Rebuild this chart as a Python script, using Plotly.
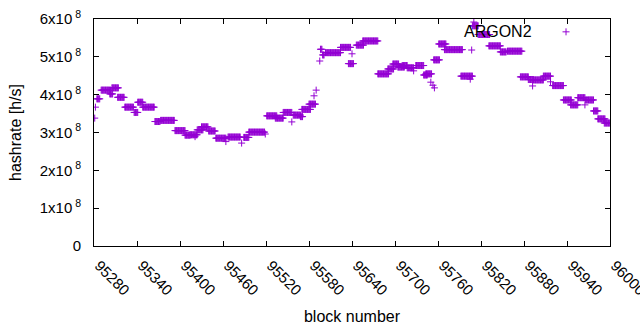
import numpy as np
import plotly.graph_objects as go

# Runs of blocks sharing the same hashrate
# (start block, end block, hashrate in units of 1e8 h/s)
seg_start = [95281, 95282, 95284, 95290, 95302, 95305, 95313, 95323, 95336, 95341,
             95348, 95365, 95373, 95393, 95407, 95414, 95421, 95424, 95430, 95440,
             95450, 95464, 95467, 95486, 95489, 95496, 95519, 95521, 95533, 95544,
             95556, 95558, 95568, 95570, 95580, 95587, 95590, 95595, 95596, 95599,
             95603, 95624, 95635, 95640, 95646, 95655, 95676, 95690, 95697, 95704,
             95710, 95717, 95726, 95729, 95740, 95743, 95750, 95753, 95755, 95754,
             95761, 95769, 95792, 95805, 95807, 95808, 95810, 95816, 95831, 95847,
             95857, 95875, 95886, 95892, 95893, 95907, 95917, 95920, 95935, 95945,
             95955, 95965, 95966, 95977, 95983, 95992]
seg_end = [95281, 95282, 95288, 95303, 95306, 95314, 95322, 95335, 95341, 95348,
           95364, 95372, 95392, 95407, 95414, 95424, 95421, 95432, 95439, 95449,
           95464, 95464, 95484, 95486, 95496, 95518, 95519, 95535, 95544, 95556,
           95556, 95568, 95571, 95582, 95589, 95587, 95590, 95595, 95598, 95601,
           95624, 95638, 95642, 95640, 95656, 95676, 95691, 95698, 95705, 95713,
           95717, 95726, 95726, 95740, 95745, 95751, 95750, 95753, 95755, 95762,
           95771, 95794, 95808, 95805, 95807, 95816, 95810, 95832, 95847, 95855,
           95877, 95886, 95893, 95892, 95907, 95917, 95917, 95935, 95946, 95955,
           95965, 95965, 95977, 95983, 95993, 96000]
seg_value = [3.38, 3.67, 3.89, 4.12, 4.02, 4.18, 3.93, 3.67, 3.53, 3.80,
             3.67, 3.29, 3.32, 3.05, 2.93, 2.94, 2.89, 3.07, 3.15, 3.04,
             2.85, 2.76, 2.88, 2.72, 2.87, 3.01, 2.96, 3.44, 3.38, 3.53,
             3.28, 3.46, 3.42, 3.61, 3.75, 3.97, 4.12, 4.89, 5.20, 5.05,
             5.11, 5.25, 4.82, 5.08, 5.31, 5.42, 4.55, 4.68, 4.81, 4.73,
             4.77, 4.71, 4.63, 4.77, 4.52, 4.55, 4.33, 4.25, 4.18, 4.92,
             5.34, 5.19, 4.49, 4.41, 5.18, 5.82, 5.92, 5.59, 5.29, 5.13,
             5.15, 4.47, 4.40, 4.23, 4.39, 4.49, 4.34, 4.24, 3.86, 3.73,
             3.92, 3.73, 3.86, 3.57, 3.36, 3.25]

x_ticks = list(range(95280, 96001, 60))
y_ticks = [0, 1e8, 2e8, 3e8, 4e8, 5e8, 6e8]
y_ticktext = ["0"] + ["%dx10<sup> 8</sup>" % i for i in range(1, 7)]
series_name = "ARGON2"

blocks = []
rates = []
for s, e, v in zip(seg_start, seg_end, seg_value):
    for b in range(s, e + 1):
        blocks.append(b)
        rates.append(v * 1e8)

color = "#9400D3"
font = "Liberation Sans, Arial, sans-serif"

fig = go.Figure()
fig.add_trace(go.Scatter(
    x=blocks, y=rates, mode="markers", name="",
    marker=dict(symbol="cross-thin", size=5, line=dict(color=color, width=1), color=color),
    showlegend=True, hoverinfo="skip",
))

axis_common = dict(
    showline=True, linecolor="black", linewidth=1, mirror="ticks",
    ticks="inside", ticklen=5, tickcolor="black", showgrid=False, zeroline=False,
    tickfont=dict(family=font, size=15, color="black"), automargin=False,
)

fig.update_layout(
    width=640, height=330,
    margin=dict(l=94, r=30, t=19, b=84),
    paper_bgcolor="white", plot_bgcolor="white",
    font=dict(family=font, size=16, color="black"),
    xaxis=dict(range=[95280, 96000], tickvals=x_ticks, ticktext=[str(t) for t in x_ticks],
               tickangle=45, ticklabeloverflow="allow", ticklabelstandoff=4,
               ticklabelshift=5,
               title=dict(text="block number", font=dict(size=16), standoff=13),
               **axis_common),
    yaxis=dict(range=[0, 6e8], tickvals=y_ticks, ticktext=y_ticktext,
               ticklabelstandoff=9,
               title=dict(text="hashrate [h/s]", font=dict(size=16), standoff=14),
               **axis_common),
    legend=dict(x=0.876, y=0.943, xanchor="left", yanchor="middle",
                bgcolor="rgba(0,0,0,0)", font=dict(size=16), itemwidth=30),
    annotations=[dict(text=series_name, xref="paper", yref="paper", x=0.853, y=0.943,
                      xanchor="right", yanchor="middle", showarrow=False,
                      font=dict(family=font, size=16, color="black"))],
)

fig.write_html("out.html", config={"displayModeBar": False},
               post_script="document.body.style.margin='0';")
